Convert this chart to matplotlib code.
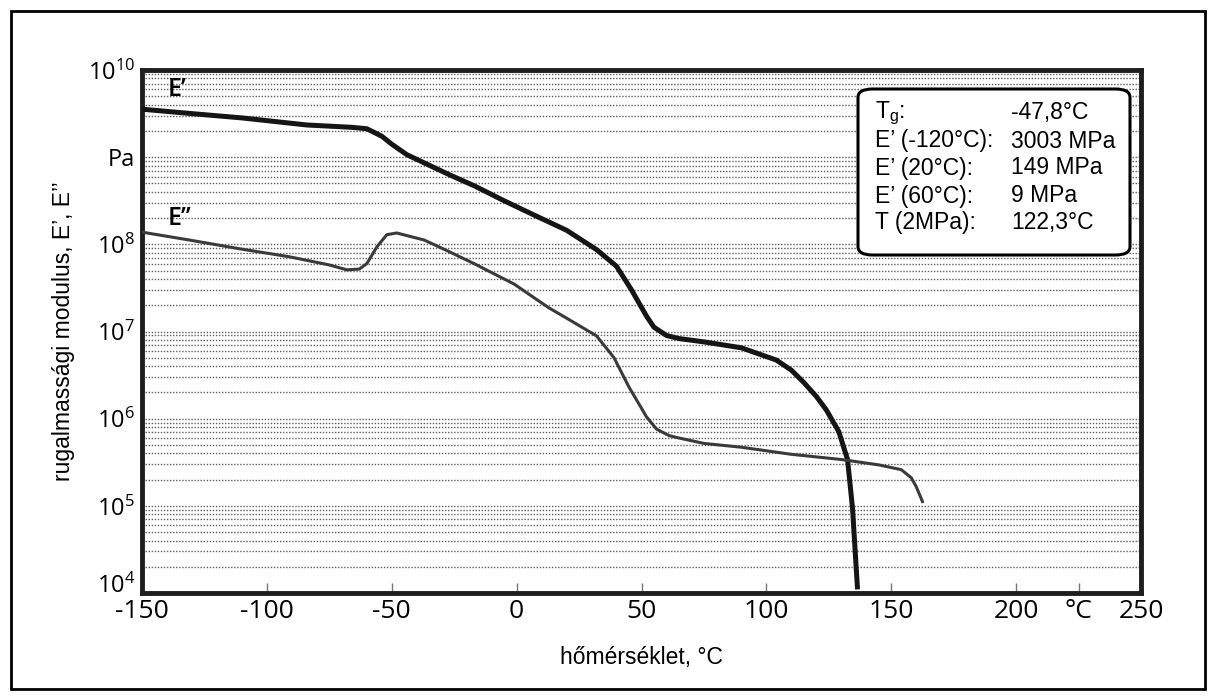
import matplotlib
matplotlib.use("Agg")
import matplotlib.pyplot as plt
from matplotlib.ticker import LogLocator, NullFormatter
from matplotlib.patches import Rectangle, FancyBboxPatch

# E' (storage modulus), Pa
t_e1 = [-150, -130, -110, -84, -66, -60, -54, -50, -44, -37, -27, -17, -5, 8, 20, 32, 40,
        46, 52, 55, 60, 65, 75, 90, 104, 110, 115, 120, 124, 129, 132.5, 134.5, 136.5]
e1 = [3.55e9, 3.16e9, 2.82e9, 2.34e9, 2.2e9, 2.12e9, 1.74e9, 1.41e9, 1.07e9, 8.6e8, 6.3e8,
      4.7e8, 3.16e8, 2.1e8, 1.45e8, 8.7e7, 5.6e7, 3.0e7, 1.5e7, 1.12e7, 9.0e6, 8.3e6, 7.6e6,
      6.5e6, 4.7e6, 3.6e6, 2.6e6, 1.8e6, 1.26e6, 7.1e5, 3.4e5, 9.3e4, 1.1e4]

# E'' (loss modulus), Pa
t_e2 = [-150, -131, -111, -91, -75, -68, -63, -60, -56, -52, -48, -37, -28, -17, -1, 13,
        19, 32, 39, 45, 52, 56, 61, 65, 75, 90, 110, 130, 145, 154, 158, 160, 162.5]
e2 = [1.38e8, 1.12e8, 8.9e7, 7.2e7, 5.8e7, 5.1e7, 5.2e7, 6.0e7, 9.3e7, 1.29e8, 1.35e8,
      1.12e8, 8.5e7, 6.0e7, 3.5e7, 1.86e7, 1.48e7, 8.9e6, 5.0e6, 2.3e6, 1.05e6, 7.6e5,
      6.4e5, 6.0e5, 5.2e5, 4.7e5, 3.9e5, 3.4e5, 2.95e5, 2.6e5, 2.1e5, 1.66e5, 1.12e5]

xticks = [-150, -100, -50, 0, 50, 100, 150, 200, 225, 250]
xticklabels = ['-150', '-100', '-50', '0', '50', '100', '150', '200', '°C', '250']
yticks = [1e4, 1e5, 1e6, 1e7, 1e8, 1e9, 1e10]
yticklabels = [r'$\mathregular{10^{4}}$', r'$\mathregular{10^{5}}$', r'$\mathregular{10^{6}}$',
               r'$\mathregular{10^{7}}$', r'$\mathregular{10^{8}}$', 'Pa',
               r'$\mathregular{10^{10}}$']

box_keys = [r'T$_\mathregular{g}$:', 'E’ (-120°C):', 'E’ (20°C):', 'E’ (60°C):', 'T (2MPa):']
box_vals = ['-47,8°C', '3003 MPa', '149 MPa', '9 MPa', '122,3°C']

W, H = 1216, 699
fig = plt.figure(figsize=(W / 100, H / 100), dpi=100)
ax = fig.add_axes([142 / W, 1 - 593 / H, (1141 - 142) / W, (593 - 70) / H])

ax.set_yscale('log')
ax.set_xlim(-150, 250)
ax.set_ylim(1e4, 1e10)

# scanned-paper style dotted grid
ax.yaxis.set_minor_locator(LogLocator(base=10, subs=range(2, 10)))
ax.yaxis.set_minor_formatter(NullFormatter())
ax.grid(which='both', axis='y', color='#5e5e5e', linestyle=(0, (1, 1.2)), linewidth=1.0)

ax.plot(t_e1, e1, color='#151515', linewidth=3.6, solid_capstyle='butt', zorder=3)
ax.plot(t_e2, e2, color='#3a3a3a', linewidth=2.2, zorder=3)

tick_font = 'Open Sans'
ax.set_xticks(xticks)
ax.set_xticklabels(xticklabels, fontsize=19, family=tick_font)
ax.set_yticks(yticks)
ax.set_yticklabels(yticklabels, fontsize=17, family=tick_font)
ax.get_yticklabels()[0].set_verticalalignment('baseline')
ax.tick_params(axis='x', direction='in', length=7, width=1, color='#777777', pad=4)
ax.tick_params(axis='y', which='both', length=0, pad=5)

for s in ax.spines.values():
    s.set_linewidth(3.5)
    s.set_color('#1e1e1e')

ax.text(-136, 6.0e9, 'E’', fontsize=18, family=tick_font, weight='semibold',
        ha='center', va='center')
ax.text(-135, 2.0e8, 'E’’', fontsize=18, family=tick_font, weight='semibold',
        ha='center', va='center')

ax.set_xlabel('hőmérséklet, °C', fontsize=16.5, family='Liberation Sans', labelpad=16)
ax.set_ylabel('rugalmassági modulus, E’, E’’', fontsize=16.5, family='Liberation Sans',
              labelpad=9)

# info box
box = FancyBboxPatch((858 / W, 1 - 255 / H), (1130 - 858) / W, (255 - 89) / H,
                     boxstyle='round,pad=0,rounding_size=0.012', transform=fig.transFigure,
                     facecolor='white', edgecolor='black', linewidth=2.2, zorder=5)
fig.patches.append(box)
rows_y = [113, 141, 168, 196, 223]
for k, v, yy in zip(box_keys, box_vals, rows_y):
    fig.text(875 / W, 1 - yy / H, k, fontsize=16.5, family='Liberation Sans',
             ha='left', va='center', zorder=6)
    fig.text(1011 / W, 1 - yy / H, v, fontsize=16.5, family='Liberation Sans',
             ha='left', va='center', zorder=6)

# outer frame
fig.patches.append(Rectangle((11 / W, 1 - 689 / H), (1205 - 11) / W, (689 - 11) / H,
                             transform=fig.transFigure, fill=False, edgecolor='black',
                             linewidth=2))

fig.savefig('out.png', dpi=100)
